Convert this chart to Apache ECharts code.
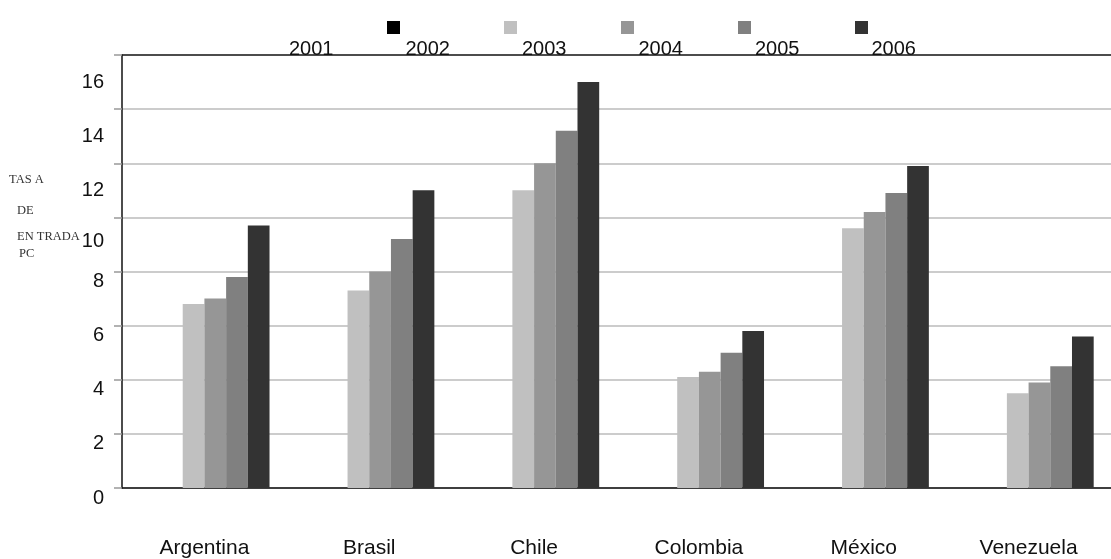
<!DOCTYPE html>
<html>
<head>
<meta charset="utf-8">
<script src="https://cdn.jsdelivr.net/npm/echarts@6/dist/echarts.min.js"></script>
<style>html,body{margin:0;padding:0;background:#fff;}#c{width:1111px;height:559px;}</style>
</head>
<body>
<div id="c"></div>
<script>
const categories = ['Argentina', 'Brasil', 'Chile', 'Colombia', 'México', 'Venezuela'];
const years = ['2001', '2002', '2003', '2004', '2005', '2006'];
const s2001 = [null, null, null, null, null, null];
const s2002 = [null, null, null, null, null, null];
const s2003 = [6.8, 7.3, 11.0, 4.1, 9.6, 3.5];
const s2004 = [7.0, 8.0, 12.0, 4.3, 10.2, 3.9];
const s2005 = [7.8, 9.2, 13.2, 5.0, 10.9, 4.5];
const s2006 = [9.7, 11.0, 15.0, 5.8, 11.9, 5.6];
const yTicks = [0, 2, 4, 6, 8, 10, 12, 14, 16];
const axisTitleLines = ['TAS A', 'DE', 'EN TRADA', 'PC'];

const seriesData = [s2001, s2002, s2003, s2004, s2005, s2006];
const colors = ['#ffffff', '#000000', '#c0c0c0', '#969696', '#808080', '#333333'];

const chart = echarts.init(document.getElementById('c'));
chart.setOption({
  animation: false,
  backgroundColor: '#fff',
  legend: [
    {
      data: years, left: 265, top: 16, itemWidth: 13, itemHeight: 13, itemGap: 104,
      selectedMode: false, formatter: () => '', icon: 'rect'
    },
    {
      data: years, left: 279, top: 34, itemWidth: 0, itemHeight: 0, itemGap: 67,
      selectedMode: false, icon: 'rect', itemStyle: { opacity: 0 },
      textStyle: { fontFamily: 'Liberation Sans, Arial', fontSize: 20, color: '#111' }
    }
  ],
  grid: { left: 122, top: 55, width: 1000, height: 433 },
  xAxis: {
    type: 'category', data: categories,
    axisLine: { lineStyle: { color: '#111', width: 1.5 } },
    axisTick: { length: 7, lineStyle: { color: '#111', width: 1.5 } },
    axisLabel: { margin: 50, fontFamily: 'Liberation Sans, Arial', fontSize: 21, color: '#111' }
  },
  yAxis: {
    type: 'value', min: 0, max: 16, interval: 2,
    axisLine: { show: true, lineStyle: { color: '#111', width: 1.5 } },
    axisTick: { show: true, length: 8, lineStyle: { color: '#999', width: 1.5 } },
    axisLabel: {
      margin: 18, fontFamily: 'Liberation Sans, Arial', fontSize: 20, color: '#111',
      formatter: v => (v >= 12 ? '{h|' + v + '}' : v === 10 ? '{m|' + v + '}' : '{l|' + v + '}'),
      rich: {
        h: { fontFamily: 'Liberation Sans, Arial', fontSize: 20, color: '#111', padding: [54, 0, 0, 0] },
        m: { fontFamily: 'Liberation Sans, Arial', fontSize: 20, color: '#111', padding: [48, 0, 0, 0] },
        l: { fontFamily: 'Liberation Sans, Arial', fontSize: 20, color: '#111', padding: [20, 0, 0, 0] }
      }
    },
    splitLine: { show: true, lineStyle: { color: ['#bbb', '#bbb', '#bbb', '#bbb', '#bbb', '#bbb', '#bbb', '#bbb', '#111'], width: 1.5 } }
  },
  graphic: axisTitleLines.map((t, i) => ({
    type: 'text', left: [9, 17, 17, 19][i], top: [173, 204, 230, 247][i],
    style: { text: t, fontFamily: 'Liberation Serif, serif', fontSize: 12.5, fill: '#333' }
  })),
  series: years.map((y, i) => ({
    name: y, type: 'bar', data: seriesData[i],
    barGap: '0%', barCategoryGap: '21%',
    itemStyle: { color: colors[i] }
  }))
});
</script>
</body>
</html>
